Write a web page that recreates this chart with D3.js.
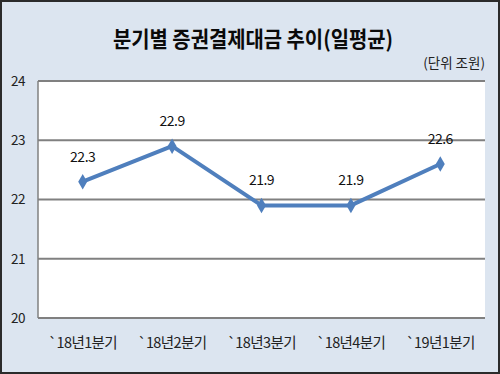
<!DOCTYPE html>
<html>
<head>
<meta charset="utf-8">
<script src="https://cdn.jsdelivr.net/npm/d3@7"></script>
<style>
  body { margin: 0; background: #fff; }
  svg text { font-family: "Noto Sans CJK KR", "Noto Sans", sans-serif; }
</style>
</head>
<body>
<svg id="chart" width="500" height="374"></svg>
<script>
var quarters = ["`18년1분기", "`18년2분기", "`18년3분기", "`18년4분기", "`19년1분기"];
var amounts = [22.3, 22.9, 21.9, 21.9, 22.6];
var yTicks = [20, 21, 22, 23, 24];

var svg = d3.select("#chart");
var W = 500, H = 374;
var plot = {left: 38, right: 485, top: 81, bottom: 318};

// background + outer frame
svg.append("rect").attr("x", 1).attr("y", 1).attr("width", W - 2).attr("height", H - 2)
    .attr("fill", "#dce5f0").attr("stroke", "#2b2b2b").attr("stroke-width", 2);

// title
svg.append("text").attr("x", 253).attr("y", 47).attr("text-anchor", "middle")
    .attr("font-size", 22).attr("font-weight", "bold").attr("fill", "#0a0a0a")
    .attr("textLength", 280).attr("lengthAdjust", "spacingAndGlyphs")
    .text("분기별 증권결제대금 추이(일평균)");

svg.append("text").attr("x", 485).attr("y", 68).attr("text-anchor", "end")
    .attr("font-size", 13.5).attr("fill", "#222")
    .text("(단위 조원)");

var x = d3.scaleBand().domain(quarters).range([plot.left, plot.right]);
var y = d3.scaleLinear().domain([20, 24]).range([plot.bottom, plot.top]);

// plot area
svg.append("rect").attr("x", plot.left).attr("y", plot.top)
    .attr("width", plot.right - plot.left).attr("height", plot.bottom - plot.top)
    .attr("fill", "#fff");

// gridlines
svg.append("g").selectAll("line").data(yTicks).enter().append("line")
    .attr("x1", plot.left).attr("x2", plot.right)
    .attr("y1", function (d) { return y(d); }).attr("y2", function (d) { return y(d); })
    .attr("stroke", "#808080").attr("stroke-width", 2);

svg.append("line").attr("x1", plot.left).attr("x2", plot.left)
    .attr("y1", plot.top).attr("y2", plot.bottom)
    .attr("stroke", "#808080").attr("stroke-width", 1.5);

// y axis labels
var yAxis = d3.axisLeft(y).tickValues(yTicks).tickFormat(d3.format("d")).tickSize(0).tickPadding(13);
var gy = svg.append("g").attr("transform", "translate(" + plot.left + ",0)").call(yAxis);
gy.select(".domain").remove();
gy.selectAll("text").attr("font-size", 13.5).attr("fill", "#222")
    .attr("letter-spacing", -0.5)
    .style("font-family", "'Noto Sans CJK KR', sans-serif");

// x axis labels
var xAxis = d3.axisBottom(x).tickSize(0).tickPadding(20);
var gx = svg.append("g").attr("transform", "translate(0," + plot.bottom + ")").call(xAxis);
gx.select(".domain").remove();
gx.selectAll("text").attr("font-size", 14.5).attr("fill", "#222")
    .attr("letter-spacing", -0.6)
    .style("font-family", "'Noto Sans CJK KR', sans-serif");

var cx = function (d, i) { return x(quarters[i]) + x.bandwidth() / 2; };

// line
var line = d3.line().x(cx).y(function (d) { return y(d); });
svg.append("path").datum(amounts).attr("d", line)
    .attr("fill", "none").attr("stroke", "#4f7fbd").attr("stroke-width", 4)
    .attr("stroke-linejoin", "round");

// markers
svg.append("g").selectAll("path").data(amounts).enter().append("path")
    .attr("d", d3.symbol().type(d3.symbolDiamond).size(70))
    .attr("transform", function (d, i) { return "translate(" + cx(d, i) + "," + y(d) + ")"; })
    .attr("fill", "#4f7fbd");

// value labels
svg.append("g").selectAll("text").data(amounts).enter().append("text")
    .attr("x", cx).attr("y", function (d) { return y(d) - 20; })
    .attr("text-anchor", "middle").attr("font-size", 14).attr("fill", "#111")
    .attr("letter-spacing", -0.5)
    .text(function (d) { return d.toFixed(1); });
</script>
</body>
</html>
